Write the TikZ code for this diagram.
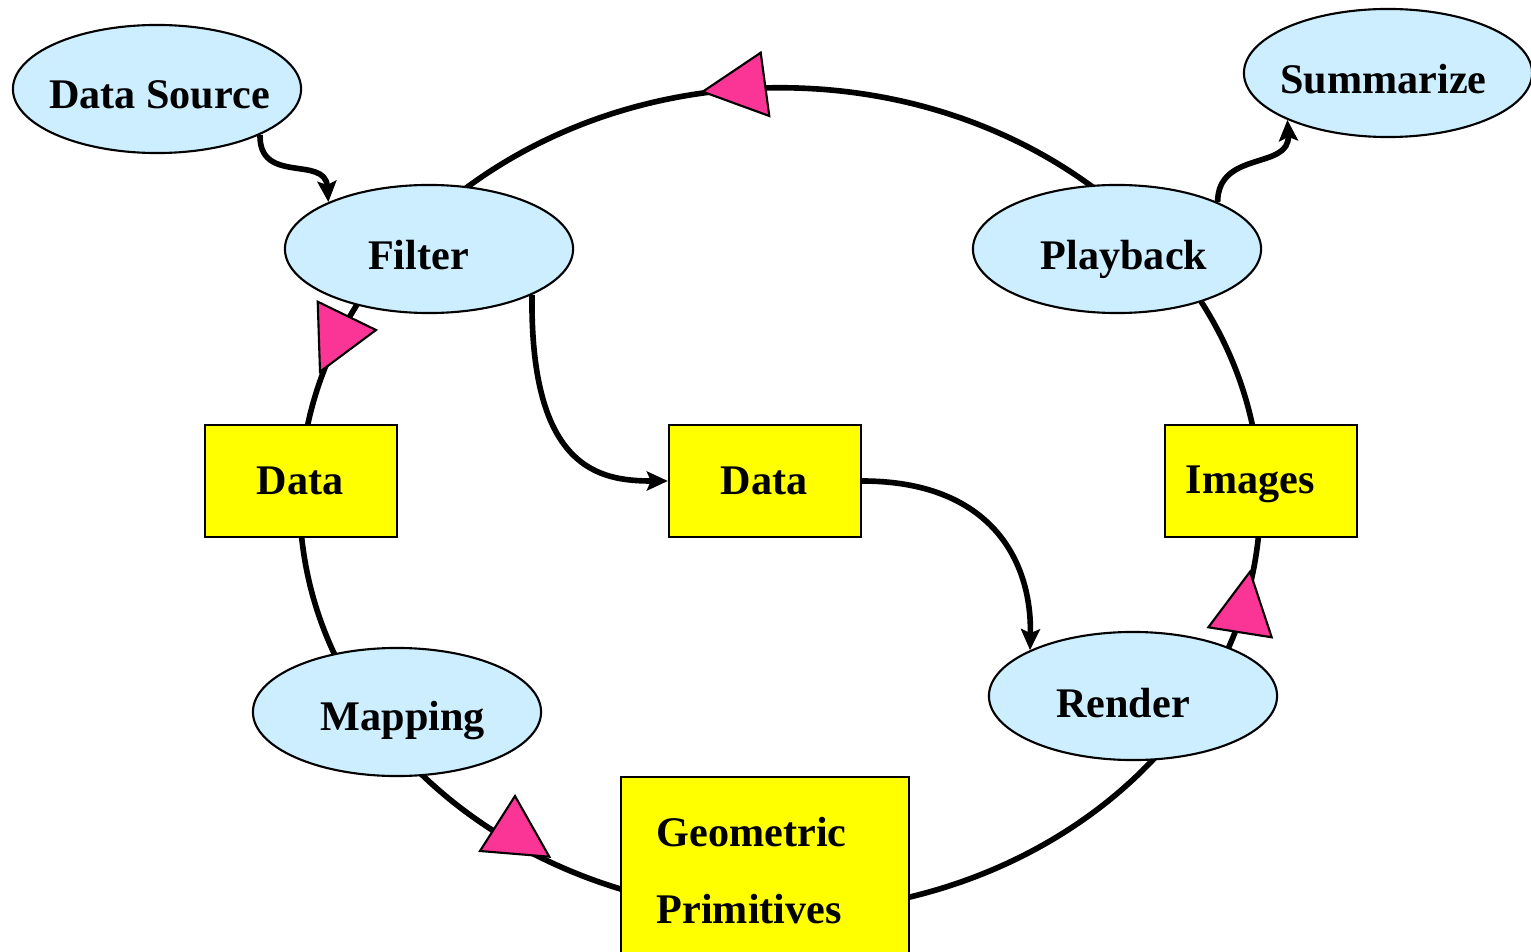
\documentclass[tikz,border=0pt]{standalone}
\usepackage{fontspec}
\setmainfont{Liberation Serif}
\usetikzlibrary{arrows.meta,shapes.geometric}
\definecolor{blobblue}{HTML}{CCEEFF}
\definecolor{boxyellow}{HTML}{FFFF00}
\definecolor{tripink}{HTML}{FA3596}
\begin{document}
\begin{tikzpicture}[x=0.01cm,y=-0.01cm,
  blob/.style={ellipse, draw=black, line width=0.6pt, fill=blobblue, minimum width=2.88cm, minimum height=1.28cm, inner sep=0pt},
  ybox/.style={rectangle, draw=black, line width=0.6pt, fill=boxyellow, minimum width=1.92cm, minimum height=1.12cm, inner sep=0pt},
  txt/.style={inner sep=0pt, font=\fontsize{12}{14}\selectfont\bfseries, anchor=base},
  ring/.style={line width=1.6pt, draw=black},
  conn/.style={line width=1.6pt, draw=black, -{Stealth[length=2.1mm,width=1.9mm,inset=0.4mm]}},
  tri/.style={fill=tripink, draw=black, line width=0.6pt, line join=miter}]
\useasboundingbox (0,0) rectangle (1531,952);
\clip (0,0) rectangle (1531,952);
% ring
\draw[ring] (780,500) ellipse [x radius=4.80cm, y radius=4.12cm];
% ellipses
\node[blob] (ds) at (157,89) {};
\node[blob] (f) at (429,249) {};
\node[blob] (pb) at (1117,249) {};
\node[blob] (sum) at (1388,73) {};
\node[blob] (map) at (397,712) {};
\node[blob] (r) at (1133,696) {};
% boxes
\node[ybox] (dl) at (301,481) {};
\node[ybox] (dm) at (765,481) {};
\node[ybox] (img) at (1261,481) {};
\node[ybox, minimum width=2.88cm, minimum height=2.30cm] (gp) at (765,892) {};
% texts
\node[txt] (tds) at (159.5,109) {Data Source};
\node[txt] (tf) at (418.5,270) {Filter};
\node[txt] (tpb) at (1124,270) {Playback};
\node[txt] (tsum) at (1383.5,94) {Summarize};
\node[txt] (tmap) at (403,730) {Mapping};
\node[txt] (tr) at (1123,717) {Render};
\node[txt] (tdl) at (300,494) {Data};
\node[txt] (tdm) at (764,494) {Data};
\node[txt, anchor=base west] (timg) at (1185,493) {Images};
\node[txt, anchor=base west] (tgp1) at (656,846) {Geometric};
\node[txt, anchor=base west] (tgp2) at (656,923) {Primitives};
% pink triangles
\filldraw[tri] (702.7,91.7) -- (760.7,52.7) -- (769.3,116) -- cycle;
\filldraw[tri] (317.7,301.7) -- (376,330) -- (320,371.7) -- cycle;
\filldraw[tri] (515,796) -- (480,851) -- (549.3,856.7) -- cycle;
\filldraw[tri] (1250,571.7) -- (1208.3,627.3) -- (1271.7,637.3) -- cycle;
% connectors
\draw[conn] (ds.-24) .. controls (259,185) and (325,155) .. (f.155);
\draw[conn] (pb.25) .. controls (1218,150) and (1290,170) .. (sum.205);
\draw[conn] (f.-24.5) .. controls (530,470) and (600,481) .. (dm.west);
\draw[conn] (dm.east) .. controls (990,481) and (1032,560) .. (r.156);
\end{tikzpicture}
\end{document}
